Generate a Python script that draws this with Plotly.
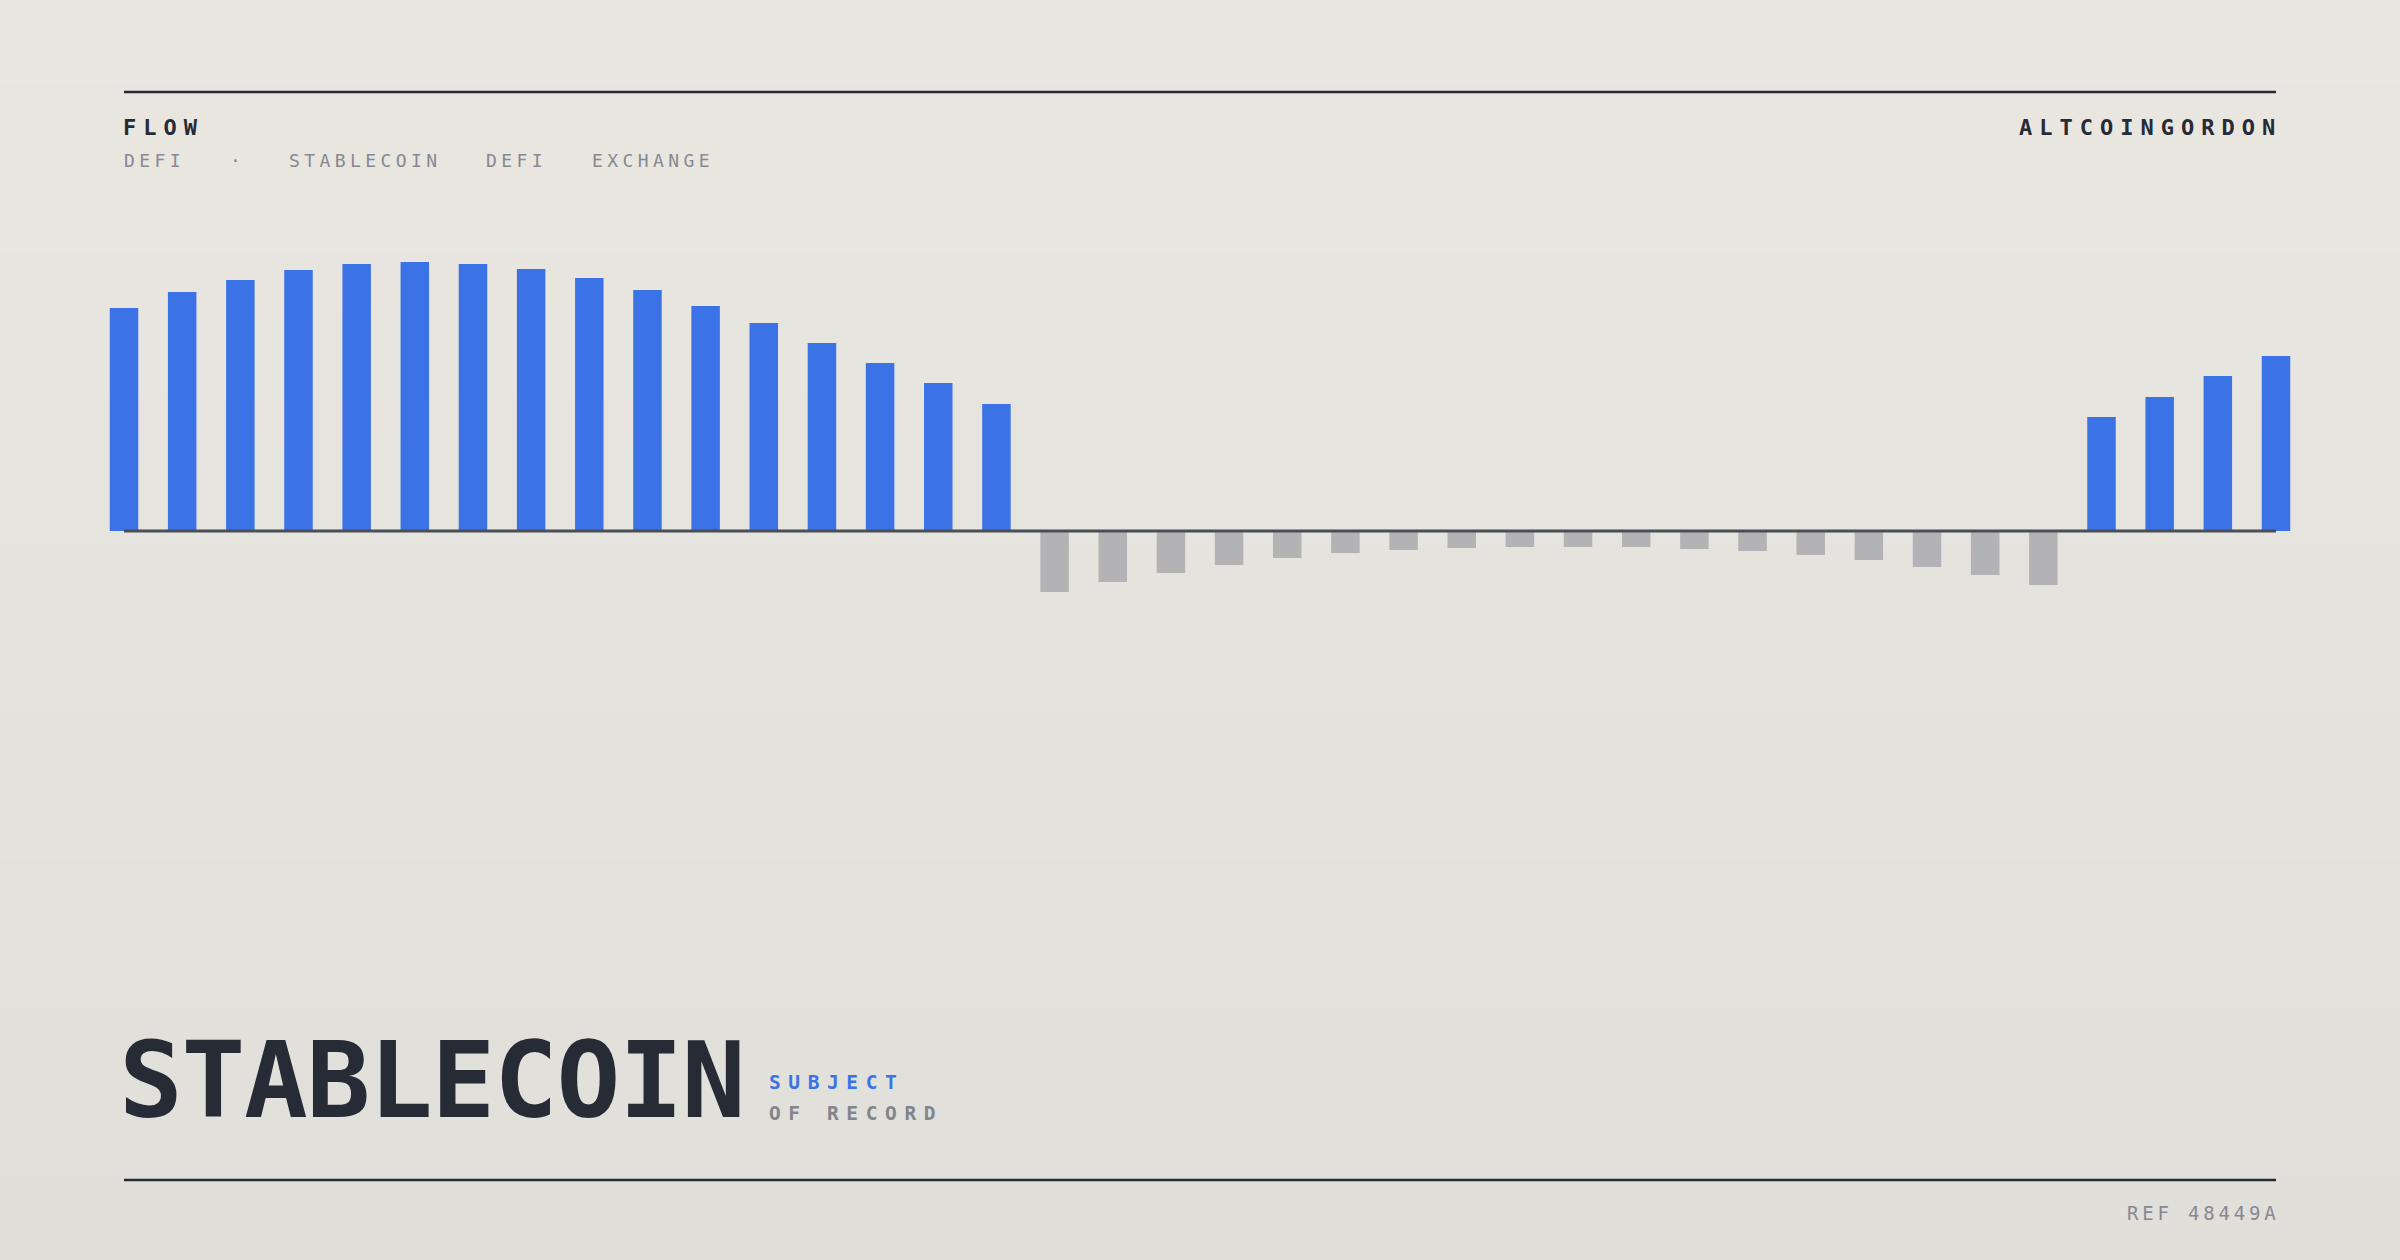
import plotly.graph_objects as go

W, H = 2400, 1260

# ---- data ----
positive_head = [22.3, 23.9, 25.1, 26.1, 26.7, 26.9, 26.7, 26.2, 25.3, 24.1,
                 22.5, 20.8, 18.8, 16.8, 14.8, 12.7]
negative_mid = [-6.1, -5.1, -4.2, -3.4, -2.7, -2.2, -1.9, -1.7, -1.6, -1.6,
                -1.6, -1.8, -2.0, -2.4, -2.9, -3.6, -4.4, -5.4]
positive_tail = [11.4, 13.4, 15.5, 17.5]
flows = positive_head + negative_mid + positive_tail
periods = list(range(len(flows)))

title_main = "STABLECOIN"
tags = ["DEFI", "·", "STABLECOIN", "DEFI", "EXCHANGE"]

BLUE = "#3b73e6"
GRAY_BAR = "#b3b3b5"
INK = "#262b36"
MUTED = "#878992"

colors = [BLUE if v >= 0 else GRAY_BAR for v in flows]

fig = go.Figure()
fig.add_trace(go.Bar(
    x=periods, y=flows, width=0.49,
    marker=dict(color=colors, line=dict(width=0)),
    hoverinfo="skip", showlegend=False,
))

# x: category 0 centred at px 124, category 37 at px 2276
k = (2276 - 124) / 37.0
x0 = -124 / k
x1 = x0 + W / k
# y: value 0 at px 531, 10 px per unit
y_top = 531 / 10.0
y_bot = (531 - H) / 10.0

def px(x):
    return x / W

def py(y):
    return 1 - y / H

shapes = []
# background vertical gradient
top_c = (234, 231, 225)
bot_c = (224, 223, 218)
n = 60
for i in range(n):
    t = i / (n - 1)
    c = tuple(round(top_c[j] + (bot_c[j] - top_c[j]) * t) for j in range(3))
    shapes.append(dict(type="rect", xref="paper", yref="paper",
                       x0=0, x1=1, y0=py((i + 1) * H / n + 1), y1=py(i * H / n),
                       fillcolor="rgb(%d,%d,%d)" % c, line=dict(width=0), layer="below"))
# rules
for yy in (92, 1180):
    shapes.append(dict(type="line", xref="paper", yref="paper",
                       x0=px(124), x1=px(2276), y0=py(yy), y1=py(yy),
                       line=dict(color=INK, width=2.5), layer="above"))
# zero line
shapes.append(dict(type="line", xref="paper", yref="y",
                   x0=px(124), x1=px(2276), y0=0, y1=0,
                   line=dict(color="#4b4e57", width=3), layer="above"))

def ann(text, x, y, size, color, ls=0, bold=False, anchor="left"):
    t = text
    if ls:
        t = "<span style='letter-spacing:%spx'>%s</span>" % (ls, t)
    if bold:
        t = "<b>" + t + "</b>"
    return dict(text=t, x=px(x), y=py(y), xref="paper", yref="paper",
                xanchor=anchor, yanchor="middle", showarrow=False,
                font=dict(family="DejaVu Sans Mono", size=size, color=color),
                borderpad=0)

annotations = [
    ann("FLOW", 122, 127.5, 22, INK, ls=7, bold=True),
    ann("ALTCOINGORDON", 2276 + 7, 127.5, 22, INK, ls=7, bold=True, anchor="right"),
    ann(tags[0], 123, 160.5, 18, MUTED, ls=4.4),
    ann(tags[1], 229, 160.5, 18, MUTED, ls=4.4),
    ann(tags[2], 288, 160.5, 18, MUTED, ls=4.4),
    ann(tags[3], 485, 160.5, 18, MUTED, ls=4.4),
    ann(tags[4], 591, 160.5, 18, MUTED, ls=4.4),
    ann(title_main, 118, 1080, 106, INK, ls=-1.3, bold=True),
    ann("SUBJECT", 768, 1082, 19.5, BLUE, ls=7.6, bold=True),
    ann("OF RECORD", 768, 1113, 19.5, "#83858d", ls=7.6, bold=True),
    ann("REF 48449A", 2276 + 3.8, 1213, 19, MUTED, ls=3.8, anchor="right"),
]

fig.update_layout(
    width=W, height=H, autosize=False,
    margin=dict(l=0, r=0, t=0, b=0, pad=0),
    paper_bgcolor="#e6e4de", plot_bgcolor="rgba(0,0,0,0)",
    xaxis=dict(range=[x0, x1], visible=False, domain=[0, 1], fixedrange=True),
    yaxis=dict(range=[y_bot, y_top], visible=False, domain=[0, 1], fixedrange=True),
    bargap=0.51,
    shapes=shapes,
    annotations=annotations,
)

fig.write_html(
    "out.html",
    config={"displayModeBar": False},
    post_script="document.body.style.margin='0';document.body.style.padding='0';"
                "document.body.style.background='#e0dfda';",
)
